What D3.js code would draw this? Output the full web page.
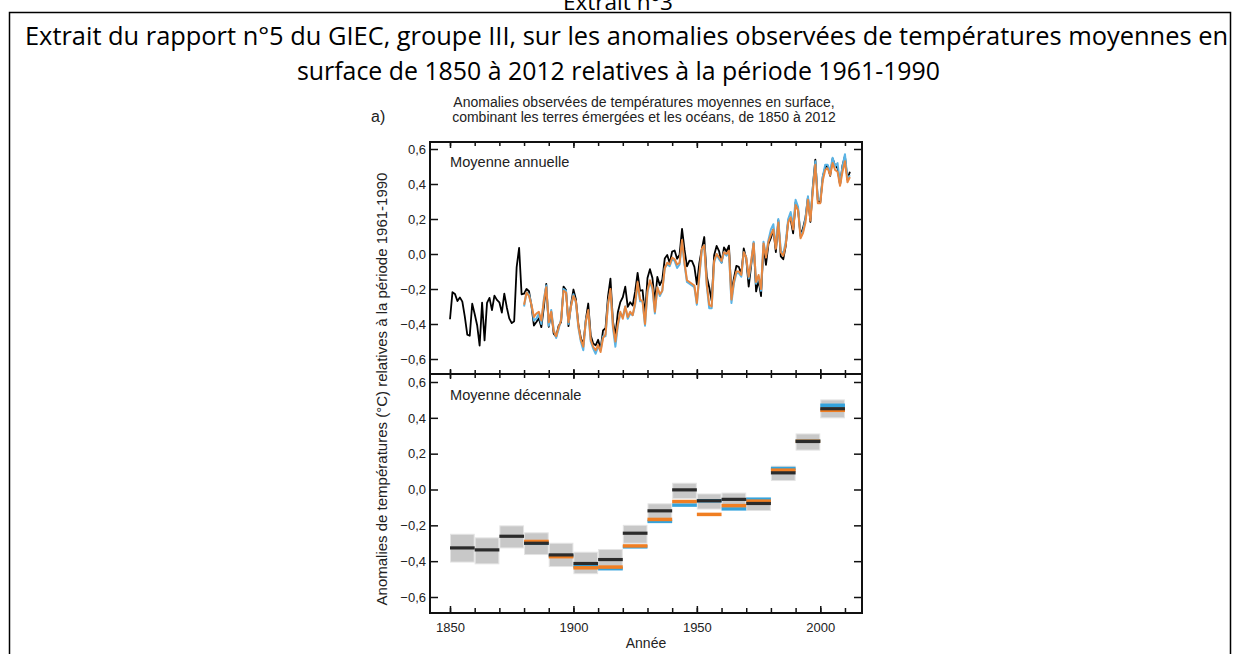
<!DOCTYPE html>
<html><head><meta charset="utf-8">
<script src="https://cdn.jsdelivr.net/npm/d3@7"></script>
<style>
html,body{margin:0;padding:0;background:#fff;}
svg{display:block;}
</style></head>
<body>
<svg id="c" width="1236" height="654"></svg>
<script>
// ---------------- DATA ----------------
const yearsBlack = d3.range(1850, 2013);
const hadcrut = [-0.373,-0.218,-0.228,-0.269,-0.248,-0.272,-0.358,-0.461,-0.467,-0.284,
-0.343,-0.407,-0.524,-0.278,-0.494,-0.279,-0.251,-0.321,-0.238,-0.262,
-0.276,-0.335,-0.227,-0.304,-0.368,-0.395,-0.384,-0.075,0.035,-0.230,
-0.227,-0.200,-0.213,-0.296,-0.409,-0.389,-0.367,-0.418,-0.307,-0.171,
-0.416,-0.330,-0.455,-0.473,-0.410,-0.390,-0.186,-0.206,-0.412,-0.289,
-0.203,-0.259,-0.402,-0.479,-0.520,-0.377,-0.283,-0.465,-0.511,-0.522,
-0.490,-0.544,-0.437,-0.424,-0.244,-0.141,-0.383,-0.468,-0.333,-0.275,
-0.247,-0.187,-0.302,-0.276,-0.294,-0.215,-0.108,-0.210,-0.206,-0.350,
-0.137,-0.087,-0.137,-0.273,-0.131,-0.178,-0.147,-0.026,-0.006,-0.052,
0.014,0.020,-0.027,-0.004,0.144,0.025,-0.071,-0.038,-0.039,-0.074,
-0.173,-0.052,0.028,0.097,-0.129,-0.190,-0.267,-0.007,0.046,0.017,
-0.049,0.038,0.014,0.048,-0.223,-0.140,-0.068,-0.074,-0.113,0.032,
-0.027,-0.186,-0.065,0.062,-0.214,-0.149,-0.241,0.047,-0.062,0.057,
0.092,0.140,0.011,0.194,-0.014,-0.030,0.045,0.192,0.198,0.118,
0.296,0.254,0.105,0.148,0.208,0.325,0.183,0.390,0.539,0.306,
0.294,0.441,0.496,0.505,0.447,0.545,0.506,0.491,0.395,0.506,
0.560,0.425,0.470];

const yearsColor = d3.range(1880, 2013);
const mlost = [-0.29,-0.22,-0.24,-0.29,-0.36,-0.34,-0.33,-0.38,-0.27,-0.19,
-0.39,-0.33,-0.44,-0.47,-0.42,-0.38,-0.21,-0.22,-0.39,-0.30,
-0.24,-0.27,-0.41,-0.49,-0.53,-0.39,-0.32,-0.49,-0.53,-0.55,
-0.52,-0.56,-0.48,-0.46,-0.29,-0.20,-0.41,-0.50,-0.40,-0.33,
-0.37,-0.30,-0.36,-0.33,-0.35,-0.28,-0.16,-0.26,-0.27,-0.40,
-0.21,-0.15,-0.19,-0.33,-0.19,-0.23,-0.21,-0.08,-0.05,-0.06,
-0.02,-0.03,-0.06,-0.05,0.08,-0.05,-0.15,-0.16,-0.17,-0.18,
-0.28,-0.12,0.03,0.05,-0.17,-0.29,-0.30,-0.04,0.00,-0.02,
-0.04,0.01,0.00,0.02,-0.26,-0.16,-0.10,-0.10,-0.12,0.01,
-0.02,-0.13,-0.04,0.06,-0.16,-0.12,-0.20,0.06,-0.02,0.07,
0.11,0.14,0.03,0.18,0.01,-0.01,0.05,0.18,0.21,0.14,
0.28,0.25,0.09,0.12,0.18,0.31,0.19,0.36,0.51,0.29,
0.29,0.42,0.48,0.49,0.45,0.52,0.48,0.47,0.39,0.47,
0.53,0.41,0.44];
const giss = [-0.30,-0.22,-0.23,-0.29,-0.38,-0.37,-0.34,-0.40,-0.26,-0.18,
-0.41,-0.32,-0.43,-0.48,-0.43,-0.37,-0.20,-0.21,-0.40,-0.30,
-0.23,-0.28,-0.42,-0.50,-0.55,-0.38,-0.33,-0.50,-0.54,-0.57,
-0.53,-0.55,-0.47,-0.47,-0.28,-0.21,-0.42,-0.53,-0.41,-0.34,
-0.36,-0.30,-0.37,-0.34,-0.35,-0.29,-0.17,-0.27,-0.27,-0.41,
-0.22,-0.16,-0.20,-0.34,-0.19,-0.24,-0.21,-0.08,-0.06,-0.07,
-0.03,-0.04,-0.08,-0.06,0.07,-0.06,-0.16,-0.17,-0.18,-0.19,
-0.29,-0.13,0.02,0.05,-0.18,-0.31,-0.31,-0.05,0.00,-0.03,
-0.05,0.01,-0.01,0.01,-0.28,-0.17,-0.11,-0.11,-0.13,0.01,
-0.02,-0.14,-0.05,0.07,-0.17,-0.13,-0.21,0.07,-0.01,0.08,
0.14,0.17,0.04,0.20,0.02,0.00,0.07,0.20,0.24,0.16,
0.31,0.27,0.10,0.13,0.20,0.33,0.21,0.38,0.53,0.31,
0.31,0.44,0.51,0.51,0.47,0.55,0.50,0.52,0.40,0.50,
0.57,0.43,0.45];

const decades = [1850,1860,1870,1880,1890,1900,1910,1920,1930,1940,1950,1960,1970,1980,1990,2000];
const decBlack = [-0.326,-0.337,-0.261,-0.300,-0.365,-0.413,-0.391,-0.244,-0.119,-0.002,-0.063,-0.055,-0.078,0.093,0.268,0.451];
const decOrange = [null,null,null,-0.290,-0.375,-0.437,-0.433,-0.315,-0.167,-0.067,-0.139,-0.090,-0.065,0.108,0.270,0.442];
const decBlue = [null,null,null,-0.300,-0.370,-0.430,-0.442,-0.320,-0.178,-0.087,-0.063,-0.108,-0.054,0.117,0.272,0.470];
const decLow = [-0.405,-0.415,-0.326,-0.363,-0.430,-0.470,-0.447,-0.300,-0.180,-0.050,-0.109,-0.090,-0.117,0.050,0.220,0.400];
const decHigh = [-0.250,-0.270,-0.203,-0.242,-0.300,-0.350,-0.335,-0.200,-0.080,0.035,-0.025,-0.020,-0.050,0.130,0.310,0.500];

const yTicks = [-0.6,-0.4,-0.2,0.0,0.2,0.4,0.6];
const xMajor = [1850,1900,1950,2000];
const xMinor = d3.range(1850, 2011, 10);

const pageTitle = ["Extrait du rapport n°5 du GIEC, groupe III, sur les anomalies observées de températures moyennes en",
                   "surface de 1850 à 2012 relatives à la période 1961-1990"];
const chartTitle = ["Anomalies observées de températures moyennes en surface,",
                    "combinant les terres émergées et les océans, de 1850 à 2012"];

// ---------------- DRAW ----------------
const svg = d3.select("#c");
const F = "'Liberation Sans', Arial, sans-serif";
const FC = "'Open Sans', 'Noto Sans', sans-serif";

// page box & heading
svg.append("text").attr("x", 618).attr("y", 10).attr("text-anchor", "middle")
  .attr("font-family", FC).attr("font-size", 22).attr("textLength", 110).attr("lengthAdjust", "spacingAndGlyphs")
  .text("Extrait n°3");
svg.append("path").attr("d", "M9.5,660 V12.5 H1230.5 V660").attr("fill", "none").attr("stroke", "#000").attr("stroke-width", 1.5);
svg.append("text").attr("x", 626.5).attr("y", 45).attr("text-anchor", "middle")
  .attr("font-family", FC).attr("font-size", 25).attr("textLength", 1203).attr("lengthAdjust", "spacingAndGlyphs")
  .text(pageTitle[0]);
svg.append("text").attr("x", 618.5).attr("y", 80).attr("text-anchor", "middle")
  .attr("font-family", FC).attr("font-size", 25).attr("textLength", 643).attr("lengthAdjust", "spacingAndGlyphs")
  .text(pageTitle[1]);

// chart title
chartTitle.forEach((t, i) => {
  svg.append("text").attr("x", 644).attr("y", 107 + i * 15).attr("text-anchor", "middle")
    .attr("font-family", F).attr("font-size", 14).attr("fill", "#222").text(t);
});
svg.append("text").attr("x", 371).attr("y", 122).attr("font-family", F).attr("font-size", 16).attr("fill", "#222").text("a)");

// scales
const L = 430, R = 862, T1 = 142, M = 374, B2 = 613;
const x = d3.scaleLinear().domain([1841.9, 2016.9]).range([L, R]);
const yTop = d3.scaleLinear().domain([-0.6, 0.6]).range([359, 149]);
const yBot = d3.scaleLinear().domain([-0.6, 0.6]).range([597, 382]);
const fmt = d => d3.format(".1f")(d).replace(".", ",").replace("-", "\u2212");

// top panel lines
svg.append("clipPath").attr("id", "ct").append("rect").attr("x", L).attr("y", T1).attr("width", R - L).attr("height", M - T1);
const gTop = svg.append("g").attr("clip-path", "url(#ct)");
const lineTop = d3.line().x(d => x(d[0])).y(d => yTop(d[1]));
gTop.append("path").datum(yearsBlack.map((yr, i) => [yr, hadcrut[i]]))
  .attr("d", lineTop).attr("fill", "none").attr("stroke", "#000").attr("stroke-width", 1.8).attr("stroke-linejoin", "round");
gTop.append("path").datum(yearsColor.map((yr, i) => [yr, giss[i]]))
  .attr("d", lineTop).attr("fill", "none").attr("stroke", "#5ab4e6").attr("stroke-width", 2).attr("stroke-linejoin", "round");
gTop.append("path").datum(yearsColor.map((yr, i) => [yr, mlost[i]]))
  .attr("d", lineTop).attr("fill", "none").attr("stroke", "#e8873f").attr("stroke-width", 2).attr("stroke-linejoin", "round");

// bottom panel
const gBot = svg.append("g");
gBot.selectAll("rect.unc").data(decades).join("rect").attr("class", "unc")
  .attr("x", d => x(d) + 0.5).attr("width", d => x(d + 10) - x(d) - 1)
  .attr("y", (d, i) => yBot(decHigh[i])).attr("height", (d, i) => yBot(decLow[i]) - yBot(decHigh[i]))
  .attr("fill", "#c8c8c8").attr("stroke", "#e4e4e4").attr("stroke-width", 1);
function segs(vals, color, w) {
  gBot.selectAll(null).data(decades.map((d, i) => [d, vals[i]]).filter(p => p[1] !== null)).join("line")
    .attr("x1", d => x(d[0])).attr("x2", d => x(d[0] + 10))
    .attr("y1", d => yBot(d[1])).attr("y2", d => yBot(d[1]))
    .attr("stroke", color).attr("stroke-width", w);
}
segs(decBlue, "#34a3dc", 3.5);
segs(decOrange, "#f07e22", 3.5);
segs(decBlack, "#2b2b2b", 3.2);

// axes
function yAxes(y) {
  const gl = svg.append("g").attr("transform", `translate(${L},0)`)
    .call(d3.axisLeft(y).tickValues(yTicks).tickSize(-8).tickSizeOuter(0).tickPadding(4).tickFormat(fmt));
  gl.select(".domain").remove();
  gl.selectAll("line").attr("stroke", "#111").attr("stroke-width", 1.5);
  gl.selectAll("text").attr("font-family", F).attr("font-size", 13).attr("fill", "#222");
  const gr = svg.append("g").attr("transform", `translate(${R},0)`)
    .call(d3.axisRight(y).tickValues(yTicks).tickSize(-8).tickSizeOuter(0).tickFormat(""));
  gr.select(".domain").remove();
  gr.selectAll("line").attr("stroke", "#111").attr("stroke-width", 1.5);
}
yAxes(yTop); yAxes(yBot);

function xTicks(yPos, dir, major, minor) {
  const mk = dir > 0 ? d3.axisBottom : d3.axisTop;
  [[xMinor, minor], [xMajor, major]].forEach(([vals, len]) => {
    const g = svg.append("g").attr("transform", `translate(0,${yPos})`)
      .call(mk(x).tickValues(vals).tickSize(len).tickSizeOuter(0).tickFormat(""));
    g.select(".domain").remove();
    g.selectAll("line").attr("stroke", "#111").attr("stroke-width", 1.5);
  });
}
xTicks(T1, 1, 6, 4);
xTicks(M, 1, 5, 4);
xTicks(M, -1, 5, 4);
xTicks(B2, -1, 7, 5);
svg.append("g").attr("transform", `translate(0,${B2})`)
  .call(d3.axisBottom(x).tickValues(xMajor).tickSize(0).tickPadding(10).tickFormat(d3.format("d")))
  .call(g => g.select(".domain").remove())
  .selectAll("text").attr("font-family", F).attr("font-size", 13).attr("fill", "#222");

// frames
svg.append("rect").attr("x", L).attr("y", T1).attr("width", R - L).attr("height", B2 - T1)
  .attr("fill", "none").attr("stroke", "#111").attr("stroke-width", 2);
svg.append("line").attr("x1", L).attr("x2", R).attr("y1", M).attr("y2", M).attr("stroke", "#111").attr("stroke-width", 2);

// panel labels
svg.append("text").attr("x", 450).attr("y", 167).attr("font-family", F).attr("font-size", 14.6).attr("fill", "#222").text("Moyenne annuelle");
svg.append("text").attr("x", 450).attr("y", 400).attr("font-family", F).attr("font-size", 14.6).attr("fill", "#222").text("Moyenne décennale");

// axis titles
svg.append("text").attr("transform", "translate(387,389) rotate(-90)").attr("text-anchor", "middle")
  .attr("font-family", F).attr("font-size", 15).attr("fill", "#222")
  .text("Anomalies de températures (°C) relatives à la période 1961-1990");
svg.append("text").attr("x", 646).attr("y", 648).attr("text-anchor", "middle")
  .attr("font-family", F).attr("font-size", 14).attr("fill", "#222").text("Année");
</script>
</body></html>
